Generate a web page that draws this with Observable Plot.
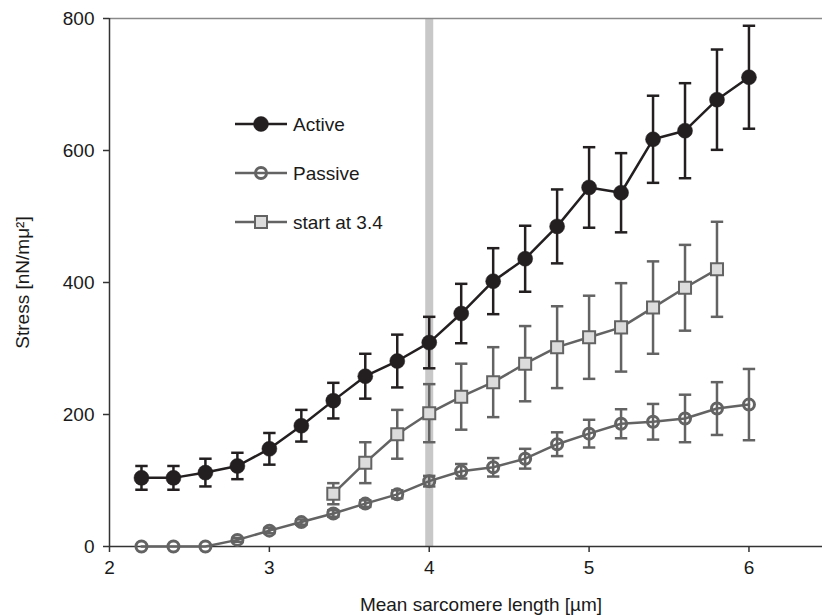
<!DOCTYPE html>
<html>
<head>
<meta charset="utf-8">
<script src="https://cdn.jsdelivr.net/npm/d3@7"></script>
<script src="https://cdn.jsdelivr.net/npm/@observablehq/plot@0.6"></script>
<style>
  html, body { margin: 0; padding: 0; background: #fff; }
  #wrap { position: relative; width: 822px; height: 615px; font-family: "Liberation Sans", Arial, sans-serif; }
  #legend { position: absolute; left: 0; top: 0; width: 822px; height: 615px; pointer-events: none; }
</style>
</head>
<body>
<div id="wrap"></div>
<script>
// ---- data ----
const lengths = [2.2, 2.4, 2.6, 2.8, 3.0, 3.2, 3.4, 3.6, 3.8, 4.0, 4.2, 4.4, 4.6, 4.8, 5.0, 5.2, 5.4, 5.6, 5.8, 6.0];
const activeMean = [104, 104, 112, 122, 148, 183, 221, 258, 281, 309, 353, 402, 436, 485, 544, 536, 617, 630, 677, 711];
const activeErr  = [18, 18, 21, 20, 24, 24, 27, 34, 40, 39, 45, 50, 50, 56, 61, 60, 66, 72, 76, 78];
const passiveMean = [0, 0, 0, 10, 24, 37, 50, 65, 79, 99, 114, 120, 133, 155, 171, 186, 189, 194, 209, 215];
const passiveErr  = [0, 0, 0, 3, 4, 4, 5, 5, 6, 8, 11, 14, 15, 18, 21, 22, 27, 36, 40, 54];
const startLengths = [3.4, 3.6, 3.8, 4.0, 4.2, 4.4, 4.6, 4.8, 5.0, 5.2, 5.4, 5.6, 5.8];
const startMean = [80, 127, 170, 202, 227, 249, 277, 302, 317, 332, 362, 392, 420];
const startErr  = [16, 31, 37, 44, 50, 53, 57, 62, 63, 67, 70, 65, 72];
const xTicks = [2, 3, 4, 5, 6];
const yTicks = [0, 200, 400, 600, 800];
const markerLine = 4.0;
const xLabel = "Mean sarcomere length [µm]";
const yLabel = "Stress [nN/mμ²]";
const seriesNames = ["Active", "Passive", "start at 3.4"];

// ---- tables ----
const active = lengths.map((x, i) => ({x, y: activeMean[i], e: activeErr[i]}));
const passive = lengths.map((x, i) => ({x, y: passiveMean[i], e: passiveErr[i]}));
const start = startLengths.map((x, i) => ({x, y: startMean[i], e: startErr[i]}));

const dark = "#231f20";
const grey = "#636363";
const font = "Liberation Sans, Arial, sans-serif";

// horizontal cap symbol for error bars
const capSymbol = {
  draw(context, size) {
    const w = Math.sqrt(size);
    context.moveTo(-w / 2, 0);
    context.lineTo(w / 2, 0);
  }
};

function errorMarks(data, color) {
  const d2 = data.filter(d => d.e > 0);
  return [
    Plot.ruleX(d2, {x: "x", y1: d => d.y - d.e, y2: d => d.y + d.e, stroke: color, strokeWidth: 2.5}),
    Plot.dot(d2, {x: "x", y: d => d.y + d.e, symbol: capSymbol, r: 7, stroke: color, strokeWidth: 2.5, fill: "none"}),
    Plot.dot(d2, {x: "x", y: d => d.y - d.e, symbol: capSymbol, r: 7, stroke: color, strokeWidth: 2.5, fill: "none"})
  ];
}

const chart = Plot.plot({
  width: 822,
  height: 615,
  marginLeft: 109,
  marginRight: 0,
  marginTop: 18,
  marginBottom: 69,
  style: {fontFamily: font, color: "#1a1a1a", background: "#fff"},
  x: {domain: [2, 6.46]},
  y: {domain: [0, 800]},
  marks: [
    Plot.ruleX([markerLine], {stroke: "#c8c8c8", strokeWidth: 8}),
    Plot.ruleY([800], {stroke: "#8a8a8a", strokeWidth: 1.5}),
    Plot.ruleY([0], {stroke: "#333", strokeWidth: 1.5}),
    Plot.ruleX([2], {stroke: "#333", strokeWidth: 1.5}),
    Plot.axisX({ticks: xTicks, tickFormat: d => String(d), tickSize: 6, tickPadding: 8, fontSize: 19,
      stroke: "#333", strokeWidth: 1.5, label: null}),
    Plot.axisY({ticks: yTicks, tickFormat: d => String(d), tickSize: 6, tickPadding: 9, fontSize: 19,
      stroke: "#333", strokeWidth: 1.5, label: null}),
    Plot.text([xLabel], {frameAnchor: "bottom", dx: 15, dy: 58, fontSize: 19, fill: "#1a1a1a",
      textAnchor: "middle", lineAnchor: "middle"}),
    Plot.text([yLabel], {frameAnchor: "left", dx: -87, dy: 0, rotate: -90, fontSize: 19, fill: "#1a1a1a",
      textAnchor: "middle", lineAnchor: "middle"}),
    ...errorMarks(start, grey),
    ...errorMarks(passive, grey),
    ...errorMarks(active, dark),
    Plot.line(start, {x: "x", y: "y", stroke: grey, strokeWidth: 2.5}),
    Plot.line(passive, {x: "x", y: "y", stroke: grey, strokeWidth: 2.5}),
    Plot.line(active, {x: "x", y: "y", stroke: dark, strokeWidth: 2.5}),
    Plot.dot(start, {x: "x", y: "y", symbol: "square", r: 6.8, fill: "#dcdcdc", stroke: grey, strokeWidth: 2}),
    Plot.dot(passive, {x: "x", y: "y", r: 5.5, fill: "none", stroke: grey, strokeWidth: 3}),
    Plot.dot(active, {x: "x", y: "y", r: 7.5, fill: dark, stroke: dark, strokeWidth: 0.5})
  ]
});

const wrap = document.getElementById("wrap");
wrap.appendChild(chart);

// ---- legend overlay ----
const lg = d3.select(wrap).append("svg").attr("id", "legend").attr("width", 822).attr("height", 615);
const legendY = [124, 173, 222];
const styles = [
  {stroke: dark, type: "circle", fill: dark, r: 7.5, sw: 0.5},
  {stroke: grey, type: "ring", fill: "none", r: 5.5, sw: 3},
  {stroke: grey, type: "square", fill: "#dcdcdc", r: 6, sw: 2}
];
seriesNames.forEach((name, i) => {
  const g = lg.append("g").attr("transform", `translate(0,${legendY[i]})`);
  const s = styles[i];
  g.append("line").attr("x1", 235).attr("x2", 287).attr("y1", 0).attr("y2", 0)
    .attr("stroke", s.stroke).attr("stroke-width", 2.5);
  if (s.type === "square") {
    g.append("rect").attr("x", 261 - s.r).attr("y", -s.r).attr("width", 2 * s.r).attr("height", 2 * s.r)
      .attr("fill", s.fill).attr("stroke", s.stroke).attr("stroke-width", s.sw);
  } else {
    g.append("circle").attr("cx", 261).attr("cy", 0).attr("r", s.r)
      .attr("fill", s.fill).attr("stroke", s.stroke).attr("stroke-width", s.sw);
  }
  g.append("text").attr("x", 293).attr("y", 0).attr("dy", "0.35em")
    .attr("font-family", font).attr("font-size", 19)
    .attr("fill", "#1a1a1a").text(name);
});
</script>
</body>
</html>
